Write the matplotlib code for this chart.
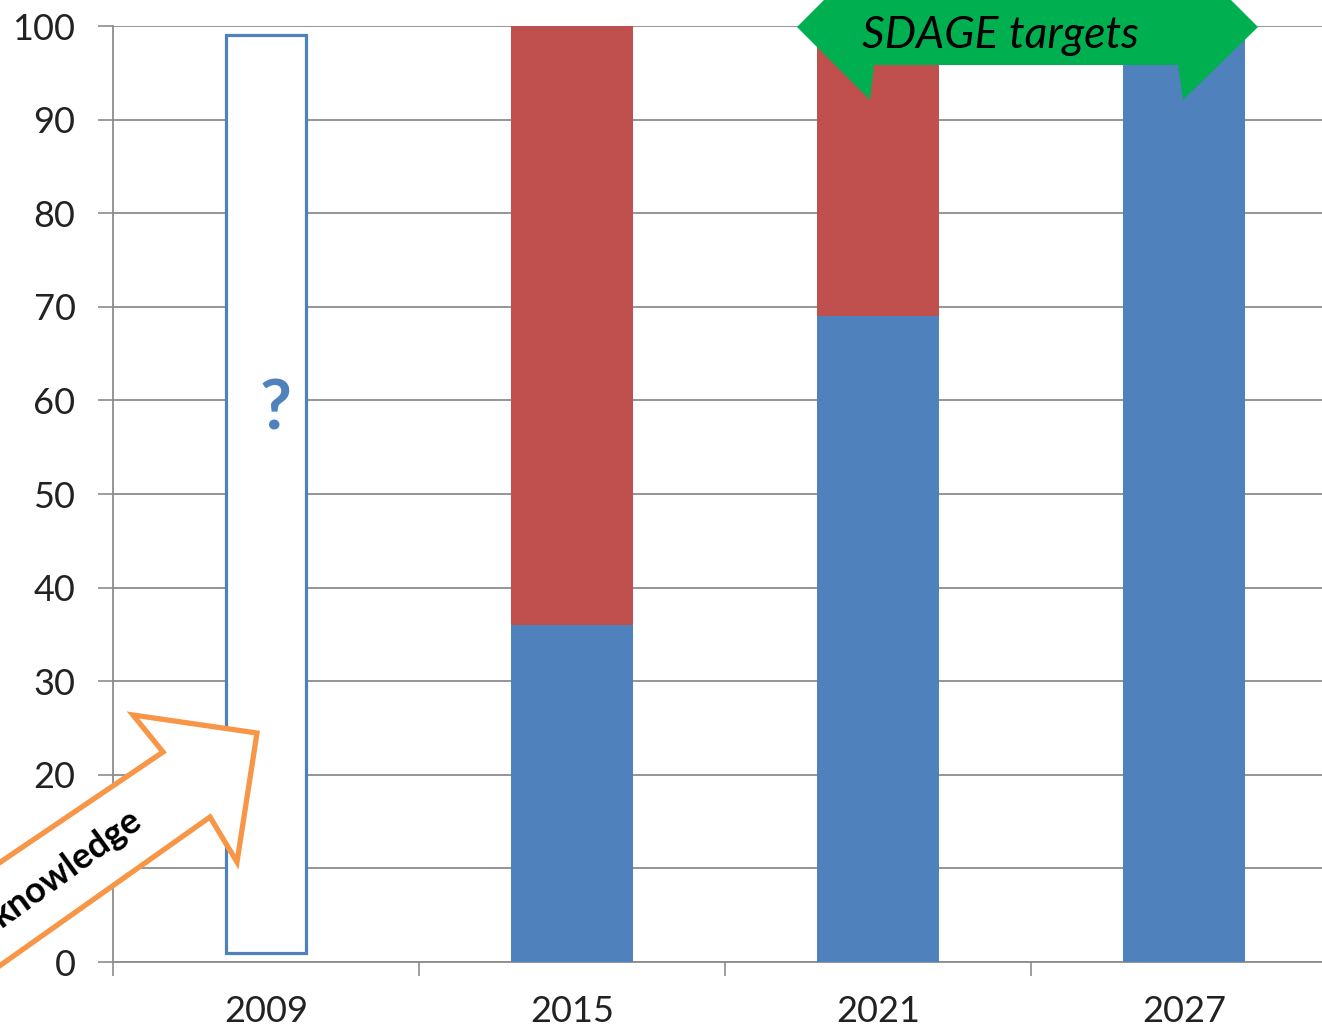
import matplotlib.pyplot as plt
from matplotlib.patches import Polygon

# data
years = ['2009', '2015', '2021', '2027']
good = [36, 69, 100]          # blue part, 2015 / 2021 / 2027
bad = [64, 31, 0]             # red part
unknown_low, unknown_high = 1, 99   # 2009: nobody knows
yticks = [0, 10, 20, 30, 40, 50, 60, 70, 80, 90, 100]

blue = '#4F81BD'
red = '#C0504D'
green = '#00B050'
orange = '#F79646'
grid = '#8C8C8C'

W, H = 1322, 1035
fig = plt.figure(figsize=(W / 100, H / 100), dpi=100)
ax = fig.add_axes([113 / W, 73 / H, (W - 113) / W, (962 - 26) / H])

# bars
ax.bar(0, unknown_high - unknown_low, bottom=unknown_low, width=0.26,
       color='white', edgecolor=blue, linewidth=2.3, zorder=3)
x = [1, 2, 3]
ax.bar(x, good, width=0.4, color=blue, zorder=3)
ax.bar(x, bad, bottom=good, width=0.4, color=red, zorder=3)
ax.text(0.03, 59, '?', color=blue, fontsize=50, fontweight='bold',
        ha='center', va='center', family='Lato', zorder=4)

ax.set_xlim(-0.5, -0.5 + (W - 113) / 306)
ax.set_ylim(0, 100)
ax.set_yticks(yticks)
ax.set_xticks(range(len(years)))
ax.set_xticklabels(years)
ax.set_xticks([-0.5, 0.5, 1.5, 2.5], minor=True)
ax.tick_params(axis='x', which='major', length=0, pad=24)
ax.tick_params(axis='x', which='minor', length=10, width=1.2, color=grid, direction='out')
ax.tick_params(axis='y', length=11, width=1.2, color=grid, pad=16)
for lab in ax.get_xticklabels() + ax.get_yticklabels():
    lab.set_family('Lato')
    lab.set_fontsize(26)
    lab.set_color('#222222')

ax.grid(axis='y', color=grid, linewidth=1.3)
ax.set_axisbelow(True)
for s in ['top', 'right']:
    ax.spines[s].set_visible(False)
for s in ['left', 'bottom']:
    ax.spines[s].set_color(grid)
    ax.spines[s].set_linewidth(1.3)


def fpx(pts):
    # figure pixel coords (y down) -> figure fraction
    return [(px / W, 1 - py / H) for px, py in pts]


# green "SDAGE targets" callout
green_pts = [(797, 27), (835, -11), (1220, -11), (1258, 27), (1183, 100),
             (1178, 65), (874, 65), (870, 100)]
fig.add_artist(Polygon(fpx(green_pts), closed=True, facecolor=green,
                       edgecolor='none', transform=fig.transFigure, zorder=5))
fig.text(1000 / W, 1 - 35 / H, 'SDAGE targets', style='italic', fontsize=32,
         family='Lato', ha='center', va='center', color='black', zorder=6)

# orange "knowledge" arrow
orange_pts = [(257, 733), (133, 715), (163, 752), (-60, 903), (-60, 1008),
              (210, 817), (237, 862)]
fig.add_artist(Polygon(fpx(orange_pts), closed=True, facecolor='white',
                       edgecolor=orange, linewidth=3.8, joinstyle='miter',
                       transform=fig.transFigure, zorder=5))
fig.text(66 / W, 1 - 868 / H, 'knowledge', rotation=36, rotation_mode='anchor',
         fontsize=26, fontweight='bold', family='Lato', ha='center', va='center',
         color='black', zorder=6)

fig.savefig('out.png', dpi=100)
